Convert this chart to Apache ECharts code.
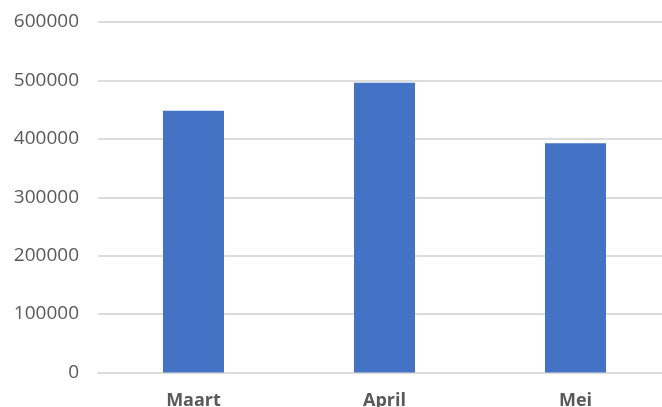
<!DOCTYPE html>
<html>
<head>
<meta charset="utf-8">
<script src="https://cdn.jsdelivr.net/npm/echarts@6/dist/echarts.min.js"></script>
<style>
  html, body { margin: 0; padding: 0; background: #fff; }
  #chart { width: 662px; height: 407px; }
</style>
</head>
<body>
<div id="chart"></div>
<script>
// data
const months = ['Maart', 'April', 'Mei'];
const amounts = [448000, 496000, 392500];
const yMin = 0, yMax = 600000, yStep = 100000;

const barColor = '#4472C4';
const labelColor = '#595959';
const gridColor = '#dcdcdc';
const fontFamily = '"Open Sans", "Noto Sans", sans-serif';

const chart = echarts.init(document.getElementById('chart'), null, { renderer: 'canvas' });

chart.setOption({
  backgroundColor: '#fff',
  animation: false,
  textStyle: { fontFamily },
  // plot runs a bit past the right edge, like the cropped source
  grid: { left: 98, width: 573, top: 22, bottom: 34.5, containLabel: false, outerBoundsMode: 'none' },
  xAxis: {
    type: 'category', data: months,
    axisLine: { show: true, lineStyle: { color: gridColor, width: 2 } },
    axisTick: { show: false },
    axisLabel: { color: labelColor, fontSize: 18, fontWeight: 'bold', margin: 19, fontFamily }
  },
  yAxis: {
    type: 'value', min: yMin, max: yMax, interval: yStep,
    axisLine: { show: false },
    axisTick: { show: false },
    axisLabel: { color: labelColor, fontSize: 19, margin: 19, fontFamily, formatter: (v) => String(v) },
    splitLine: { show: true, lineStyle: { color: gridColor, width: 2 } }
  },
  series: [{
    type: 'bar', data: amounts,
    barWidth: 61,
    itemStyle: { color: barColor }
  }]
});
</script>
</body>
</html>
